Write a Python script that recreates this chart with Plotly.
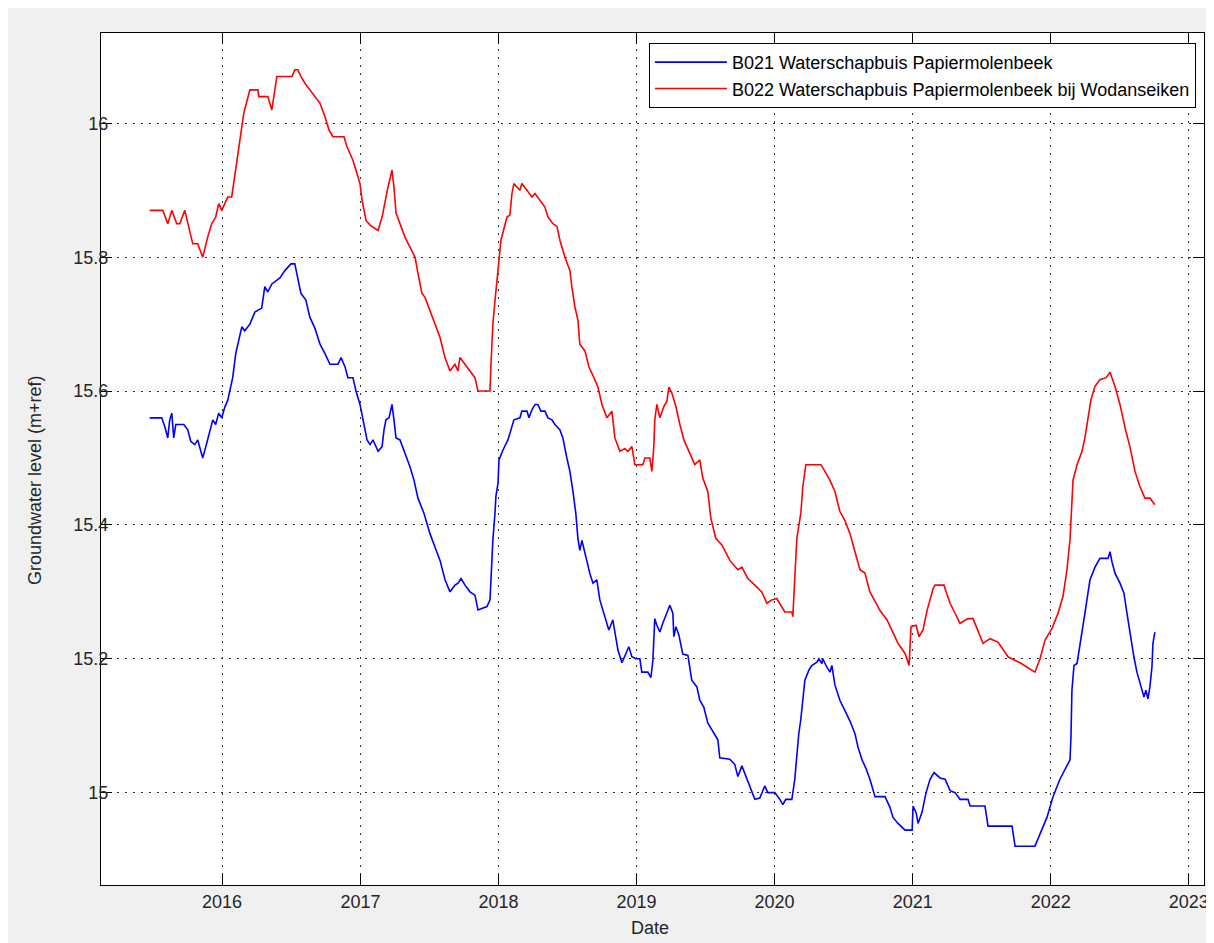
import datetime as dt
import plotly.graph_objects as go

# ---- data (decimal years, groundwater level m+ref) ----
b022_t = [2015.476, 2015.571, 2015.607, 2015.636, 2015.672, 2015.694, 2015.730, 2015.752, 2015.788, 2015.824,
          2015.860, 2015.896, 2015.925, 2015.954, 2015.976, 2015.998, 2016.041, 2016.070, 2016.099, 2016.128,
          2016.157, 2016.201, 2016.259, 2016.266, 2016.331, 2016.360, 2016.374, 2016.396, 2016.505, 2016.526,
          2016.548, 2016.570, 2016.599, 2016.635, 2016.671, 2016.708, 2016.744, 2016.773, 2016.802, 2016.881,
          2016.903, 2016.925, 2016.946, 2016.968, 2016.997, 2017.012, 2017.041, 2017.070, 2017.128, 2017.157,
          2017.178, 2017.200, 2017.229, 2017.243, 2017.258, 2017.287, 2017.323, 2017.359, 2017.396, 2017.417,
          2017.446, 2017.468, 2017.504, 2017.540, 2017.577, 2017.613, 2017.649, 2017.685, 2017.707, 2017.721,
          2017.758, 2017.794, 2017.830, 2017.852, 2017.939, 2017.946, 2017.960, 2017.975, 2017.989, 2018.004,
          2018.018, 2018.040, 2018.062, 2018.083, 2018.098, 2018.112, 2018.156, 2018.170, 2018.214, 2018.243,
          2018.265, 2018.301, 2018.337, 2018.359, 2018.395, 2018.424, 2018.446, 2018.482, 2018.518, 2018.532,
          2018.554, 2018.576, 2018.590, 2018.627, 2018.656, 2018.692, 2018.721, 2018.750, 2018.786, 2018.822,
          2018.844, 2018.880, 2018.916, 2018.938, 2018.967, 2018.989, 2019.047, 2019.061, 2019.097, 2019.112,
          2019.126, 2019.133, 2019.148, 2019.170, 2019.199, 2019.220, 2019.235, 2019.257, 2019.286, 2019.315,
          2019.344, 2019.387, 2019.423, 2019.459, 2019.481, 2019.517, 2019.539, 2019.575, 2019.619, 2019.677,
          2019.735, 2019.764, 2019.807, 2019.858, 2019.908, 2019.945, 2019.981, 2020.017, 2020.039, 2020.075,
          2020.126, 2020.133, 2020.147, 2020.162, 2020.191, 2020.205, 2020.227, 2020.336, 2020.365, 2020.401,
          2020.437, 2020.473, 2020.509, 2020.546, 2020.582, 2020.618, 2020.654, 2020.690, 2020.734, 2020.763,
          2020.814, 2020.857, 2020.893, 2020.944, 2020.973, 2020.987, 2021.024, 2021.045, 2021.074, 2021.103,
          2021.125, 2021.147, 2021.161, 2021.226, 2021.241, 2021.270, 2021.306, 2021.342, 2021.400, 2021.436,
          2021.509, 2021.559, 2021.617, 2021.690, 2021.777, 2021.885, 2021.922, 2021.958, 2022.008, 2022.052,
          2022.088, 2022.117, 2022.139, 2022.153, 2022.161, 2022.190, 2022.226, 2022.247, 2022.269, 2022.291,
          2022.320, 2022.356, 2022.400, 2022.429, 2022.465, 2022.501, 2022.544, 2022.573, 2022.610, 2022.646,
          2022.682, 2022.718, 2022.754]
b022_v = [15.87, 15.87, 15.85, 15.87, 15.85, 15.85, 15.87, 15.85, 15.82, 15.82,
          15.80, 15.83, 15.85, 15.86, 15.88, 15.87, 15.89, 15.89, 15.93, 15.97,
          16.015, 16.05, 16.05, 16.04, 16.04, 16.02, 16.04, 16.07, 16.07, 16.08,
          16.08, 16.07, 16.06, 16.05, 16.04, 16.03, 16.01, 15.99, 15.98, 15.98,
          15.965, 15.955, 15.945, 15.93, 15.91, 15.885, 15.855, 15.848, 15.84, 15.86,
          15.885, 15.905, 15.93, 15.905, 15.866, 15.85, 15.83, 15.815, 15.80, 15.776,
          15.746, 15.74, 15.72, 15.70, 15.68, 15.65, 15.63, 15.64, 15.63, 15.65,
          15.64, 15.63, 15.62, 15.60, 15.60, 15.64, 15.70, 15.735, 15.77, 15.795,
          15.825, 15.845, 15.86, 15.863, 15.895, 15.91, 15.90, 15.91, 15.897, 15.89,
          15.895, 15.885, 15.875, 15.86, 15.85, 15.846, 15.825, 15.80, 15.78, 15.756,
          15.726, 15.706, 15.67, 15.66, 15.636, 15.62, 15.606, 15.58, 15.56, 15.57,
          15.53, 15.51, 15.514, 15.51, 15.517, 15.49, 15.49, 15.50, 15.50, 15.48,
          15.517, 15.557, 15.58, 15.56, 15.577, 15.584, 15.606, 15.597, 15.577, 15.55,
          15.527, 15.507, 15.49, 15.497, 15.47, 15.45, 15.41, 15.38, 15.37, 15.347,
          15.333, 15.337, 15.32, 15.31, 15.30, 15.283, 15.288, 15.29, 15.283, 15.27,
          15.27, 15.263, 15.32, 15.38, 15.418, 15.457, 15.49, 15.49, 15.48, 15.467,
          15.45, 15.42, 15.407, 15.387, 15.36, 15.333, 15.328, 15.30, 15.283, 15.272,
          15.258, 15.24, 15.223, 15.208, 15.19, 15.248, 15.25, 15.233, 15.243, 15.272,
          15.288, 15.305, 15.31, 15.31, 15.30, 15.283, 15.268, 15.253, 15.26, 15.26,
          15.223, 15.23, 15.225, 15.203, 15.194, 15.18, 15.20, 15.228, 15.245, 15.268,
          15.293, 15.333, 15.378, 15.427, 15.467, 15.49, 15.51, 15.53, 15.557, 15.587,
          15.607, 15.617, 15.62, 15.628, 15.607, 15.58, 15.54, 15.517, 15.48, 15.457,
          15.44, 15.44, 15.43]

b021_t = [2015.476, 2015.563, 2015.585, 2015.607, 2015.621, 2015.636, 2015.650, 2015.665, 2015.723, 2015.752,
          2015.773, 2015.802, 2015.824, 2015.839, 2015.860, 2015.889, 2015.911, 2015.933, 2015.954, 2015.976,
          2015.998, 2016.020, 2016.041, 2016.077, 2016.099, 2016.121, 2016.143, 2016.164, 2016.201, 2016.237,
          2016.287, 2016.309, 2016.331, 2016.360, 2016.418, 2016.454, 2016.498, 2016.526, 2016.548, 2016.570,
          2016.606, 2016.635, 2016.671, 2016.708, 2016.744, 2016.780, 2016.838, 2016.860, 2016.889, 2016.910,
          2016.946, 2016.968, 2016.997, 2017.019, 2017.048, 2017.070, 2017.091, 2017.128, 2017.157, 2017.171,
          2017.185, 2017.207, 2017.229, 2017.243, 2017.258, 2017.287, 2017.323, 2017.359, 2017.388, 2017.417,
          2017.461, 2017.504, 2017.540, 2017.577, 2017.613, 2017.649, 2017.685, 2017.707, 2017.729, 2017.758,
          2017.794, 2017.830, 2017.852, 2017.917, 2017.939, 2017.946, 2017.960, 2017.975, 2017.982, 2017.997,
          2018.004, 2018.033, 2018.069, 2018.091, 2018.112, 2018.156, 2018.170, 2018.207, 2018.221, 2018.243,
          2018.265, 2018.286, 2018.308, 2018.337, 2018.359, 2018.388, 2018.409, 2018.446, 2018.467, 2018.496,
          2018.518, 2018.540, 2018.561, 2018.576, 2018.590, 2018.605, 2018.627, 2018.663, 2018.685, 2018.713,
          2018.735, 2018.771, 2018.800, 2018.829, 2018.844, 2018.866, 2018.895, 2018.916, 2018.945, 2018.967,
          2018.996, 2019.025, 2019.039, 2019.083, 2019.105, 2019.119, 2019.126, 2019.133, 2019.148, 2019.170,
          2019.191, 2019.220, 2019.242, 2019.264, 2019.271, 2019.286, 2019.307, 2019.336, 2019.373, 2019.401,
          2019.438, 2019.459, 2019.488, 2019.517, 2019.590, 2019.604, 2019.677, 2019.713, 2019.735, 2019.764,
          2019.793, 2019.821, 2019.858, 2019.894, 2019.930, 2019.952, 2020.003, 2020.039, 2020.061, 2020.082,
          2020.126, 2020.147, 2020.162, 2020.176, 2020.191, 2020.205, 2020.220, 2020.249, 2020.270, 2020.307,
          2020.321, 2020.343, 2020.350, 2020.372, 2020.401, 2020.415, 2020.437, 2020.473, 2020.509, 2020.546,
          2020.582, 2020.604, 2020.633, 2020.662, 2020.690, 2020.727, 2020.799, 2020.821, 2020.835, 2020.857,
          2020.893, 2020.944, 2020.995, 2021.002, 2021.024, 2021.038, 2021.067, 2021.096, 2021.125, 2021.154,
          2021.197, 2021.234, 2021.270, 2021.306, 2021.342, 2021.400, 2021.415, 2021.523, 2021.545, 2021.719,
          2021.741, 2021.885, 2021.972, 2022.016, 2022.066, 2022.139, 2022.146, 2022.153, 2022.168, 2022.190,
          2022.211, 2022.226, 2022.247, 2022.269, 2022.284, 2022.320, 2022.356, 2022.414, 2022.429, 2022.443,
          2022.465, 2022.501, 2022.530, 2022.552, 2022.573, 2022.602, 2022.624, 2022.646, 2022.675, 2022.689,
          2022.704, 2022.718, 2022.733, 2022.740, 2022.754]
b021_v = [15.56, 15.56, 15.547, 15.53, 15.557, 15.567, 15.53, 15.55, 15.55, 15.542,
          15.525, 15.52, 15.527, 15.515, 15.50, 15.522, 15.542, 15.557, 15.55, 15.567,
          15.56, 15.576, 15.586, 15.62, 15.656, 15.676, 15.696, 15.69, 15.70, 15.718,
          15.724, 15.756, 15.748, 15.76, 15.769, 15.78, 15.79, 15.79, 15.77, 15.746,
          15.736, 15.71, 15.694, 15.67, 15.656, 15.64, 15.64, 15.65, 15.636, 15.62,
          15.62, 15.60, 15.58, 15.557, 15.527, 15.52, 15.527, 15.51, 15.517, 15.542,
          15.557, 15.56, 15.58, 15.557, 15.53, 15.527, 15.507, 15.487, 15.467, 15.44,
          15.417, 15.387, 15.367, 15.347, 15.318, 15.30, 15.31, 15.313, 15.32, 15.31,
          15.30, 15.295, 15.273, 15.278, 15.288, 15.322, 15.378, 15.417, 15.443, 15.462,
          15.497, 15.512, 15.527, 15.542, 15.557, 15.56, 15.57, 15.57, 15.56, 15.572,
          15.58, 15.58, 15.57, 15.57, 15.56, 15.557, 15.55, 15.542, 15.53, 15.50,
          15.48, 15.45, 15.417, 15.38, 15.362, 15.377, 15.357, 15.327, 15.313, 15.318,
          15.288, 15.263, 15.243, 15.258, 15.238, 15.213, 15.194, 15.203, 15.218, 15.203,
          15.20, 15.20, 15.18, 15.18, 15.172, 15.197, 15.243, 15.26, 15.25, 15.24,
          15.253, 15.268, 15.28, 15.268, 15.233, 15.248, 15.236, 15.207, 15.205, 15.168,
          15.158, 15.138, 15.128, 15.104, 15.079, 15.052, 15.05, 15.042, 15.024, 15.04,
          15.024, 15.01, 14.99, 14.992, 15.01, 15.00, 15.00, 14.99, 14.982, 14.99,
          14.99, 15.02, 15.063, 15.088, 15.11, 15.138, 15.168, 15.183, 15.19, 15.195,
          15.20, 15.193, 15.20, 15.19, 15.18, 15.19, 15.161, 15.138, 15.123, 15.107,
          15.088, 15.068, 15.049, 15.036, 15.02, 14.994, 14.994, 14.983, 14.978, 14.963,
          14.954, 14.944, 14.944, 14.98, 14.97, 14.954, 14.971, 15.00, 15.02, 15.03,
          15.022, 15.02, 15.003, 15.00, 14.99, 14.99, 14.98, 14.98, 14.95, 14.95,
          14.92, 14.92, 14.963, 14.994, 15.02, 15.049, 15.083, 15.153, 15.19, 15.193,
          15.223, 15.238, 15.268, 15.298, 15.318, 15.337, 15.35, 15.35, 15.36, 15.345,
          15.328, 15.313, 15.298, 15.268, 15.238, 15.203, 15.18, 15.163, 15.143, 15.153,
          15.14, 15.158, 15.188, 15.223, 15.24]

series_names = ["B021 Waterschapbuis Papiermolenbeek",
                "B022 Waterschapbuis Papiermolenbeek bij Wodanseiken"]
year_ticks = [2016, 2017, 2018, 2019, 2020, 2021, 2022, 2023]
y_ticks = [15.0, 15.2, 15.4, 15.6, 15.8, 16.0]
y_tick_text = ["15", "15.2", "15.4", "15.6", "15.8", "16"]


def to_date(t):
    y = int(t)
    start = dt.datetime(y, 1, 1)
    length = (dt.datetime(y + 1, 1, 1) - start).total_seconds()
    return start + dt.timedelta(seconds=(t - y) * length)


FONT = "Liberation Sans, Arial, sans-serif"
INK = "#262626"

fig = go.Figure()
fig.add_trace(go.Scatter(x=[to_date(t) for t in b021_t], y=b021_v, mode="lines",
                         name=series_names[0], line=dict(color="#0000ff", width=1.6)))
fig.add_trace(go.Scatter(x=[to_date(t) for t in b022_t], y=b022_v, mode="lines",
                         name=series_names[1], line=dict(color="#ff0000", width=1.6)))

axis_common = dict(
    showline=True, linecolor="black", linewidth=1, mirror="allticks",
    ticks="inside", ticklen=11, tickwidth=1, tickcolor="black",
    showgrid=True, gridcolor="#333333", gridwidth=1, griddash="2px,6px",
    zeroline=False, automargin=False,
    tickfont=dict(family=FONT, size=18, color=INK),
)

fig.update_xaxes(
    **axis_common,
    range=[to_date(2015.123), to_date(2023.11)],
    tickvals=[dt.datetime(y, 1, 1) for y in year_ticks],
    ticktext=[str(y) for y in year_ticks],
)
fig.update_yaxes(
    **axis_common,
    range=[14.862, 16.135],
    tickvals=y_ticks, ticktext=y_tick_text,
    ticklabelstandoff=-12,
)

fig.update_layout(
    width=1206, height=935,
    margin=dict(l=93, r=10, t=25, b=58, autoexpand=False),
    paper_bgcolor="#f0f0f0", plot_bgcolor="white",
    showlegend=True,
    legend=dict(x=0.9927, y=0.9883, xanchor="right", yanchor="top",
                bgcolor="white", bordercolor="black", borderwidth=1,
                font=dict(family=FONT, size=18, color="black"),
                tracegroupgap=0, itemwidth=72),
    annotations=[
        dict(text="Groundwater level (m+ref)", textangle=-90,
             xref="paper", yref="paper", x=-0.0598, y=0.4754,
             xanchor="center", yanchor="middle", showarrow=False,
             font=dict(family=FONT, size=18, color=INK)),
        dict(text="Date", xref="paper", yref="paper", x=0.4977, y=-0.0505,
             xanchor="center", yanchor="middle", showarrow=False,
             font=dict(family=FONT, size=18, color=INK)),
    ],
)

fig.write_html("out.html")
